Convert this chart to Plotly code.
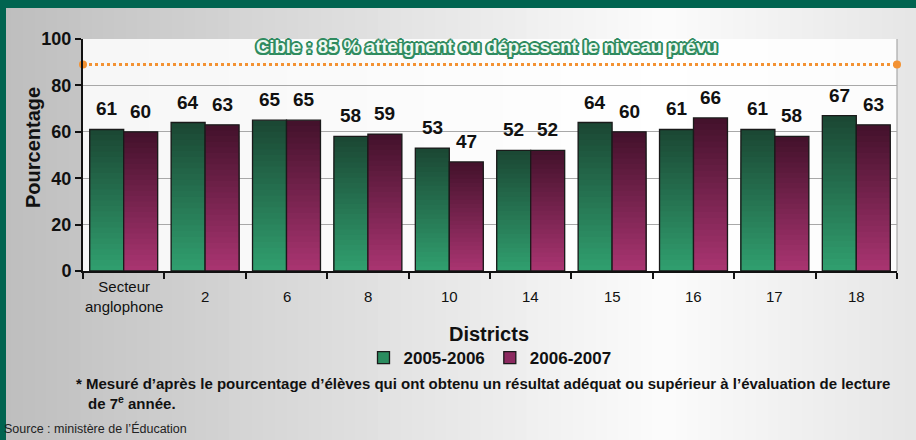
import plotly.graph_objects as go

# ---------------- data ----------------
categories = ["Secteur anglophone", "2", "6", "8", "10", "14", "15", "16", "17", "18"]
tick_labels = ["Secteur<br>anglophone", "2", "6", "8", "10", "14", "15", "16", "17", "18"]
series_names = ["2005-2006", "2006-2007"]
values_2005_2006 = [61, 64, 65, 58, 53, 52, 64, 61, 61, 67]
values_2006_2007 = [60, 63, 65, 59, 47, 52, 60, 66, 58, 63]
target_line_value = 89
target_text = "Cible : 85 % atteignent ou dépassent le niveau prévu"
y_ticks = [0, 20, 40, 60, 80, 100]

W, H = 916, 440
ML, MR, MT, MB = 83, 19, 39, 169
PW, PH = W - ML - MR, H - MT - MB


def px(x):
    return (x - ML) / PW


def py(y):
    return (H - MB - y) / PH


def lerp(c1, c2, t):
    return "rgb(%d,%d,%d)" % tuple(round(a + (b - a) * t) for a, b in zip(c1, c2))


fig = go.Figure()

series = [values_2005_2006, values_2006_2007]
dark = [(27, 72, 52), (68, 18, 44)]
light = [(48, 158, 110), (168, 52, 112)]
mid = ["#2a8c5f", "#8c2a60"]
N = 26
for s, vals in enumerate(series):
    for k in range(N):
        f = 1 - k / N
        fig.add_trace(go.Bar(
            x=categories, y=[v * f for v in vals],
            offsetgroup=series_names[s],
            marker=dict(color=lerp(dark[s], light[s], k / (N - 1)), line=dict(width=0)),
            showlegend=False, hoverinfo="skip"))
    fig.add_trace(go.Bar(
        x=categories, y=vals, offsetgroup=series_names[s],
        marker=dict(color="rgba(0,0,0,0)", line=dict(color="#1a1a1a", width=1.3)),
        showlegend=False, name=series_names[s]))

# legend entries
for s in range(2):
    fig.add_trace(go.Bar(
        x=[categories[0]], y=[None], name=series_names[s], offsetgroup=series_names[s],
        marker=dict(color=mid[s], line=dict(color="#1a1a1a", width=1.3)),
        showlegend=True))

# target line
fig.add_trace(go.Scatter(
    x=[0, 1], y=[target_line_value, target_line_value], xaxis="x2", mode="lines+markers",
    line=dict(color="#f39233", width=3, dash="dot"),
    marker=dict(color="#f39233", size=8), cliponaxis=False, showlegend=False,
    hoverinfo="skip"))

shapes = []
# background gradient
NS = 80
for i in range(NS):
    x0 = W * i / NS
    x1 = W * (i + 1) / NS + 1
    t = (i + 0.5) / NS
    if t < 0.72:
        g = 190 + (252 - 190) * (t / 0.72)
    else:
        g = 252 - (252 - 230) * ((t - 0.72) / 0.28)
    shapes.append(dict(type="rect", xref="paper", yref="paper",
                       x0=px(x0), x1=px(x1), y0=py(H), y1=py(0),
                       fillcolor="rgb(%d,%d,%d)" % (g, g, g), line_width=0, layer="below"))
# plot area
shapes.append(dict(type="rect", xref="paper", yref="paper", x0=0, x1=1, y0=0, y1=1,
                   fillcolor="rgba(255,255,255,0.85)", line_width=0, layer="below"))
# right border of plot area
shapes.append(dict(type="line", xref="paper", yref="paper", x0=1, x1=1, y0=0, y1=1,
                   line=dict(color="#a8a8a8", width=1.2), layer="below"))
# frame
shapes.append(dict(type="rect", xref="paper", yref="paper", x0=px(0), x1=px(W), y0=py(8), y1=py(0),
                   fillcolor="#006450", line_width=0, layer="above"))
shapes.append(dict(type="rect", xref="paper", yref="paper", x0=px(0), x1=px(6), y0=py(H), y1=py(0),
                   fillcolor="#006450", line_width=0, layer="above"))

annotations = []
# value labels
for s, vals in enumerate(series):
    for i, v in enumerate(vals):
        annotations.append(dict(
            x=i, y=v, xref="x", yref="y", text=str(v), showarrow=False,
            xshift=-17 if s == 0 else 17, xanchor="center", yanchor="bottom", yshift=8,
            font=dict(family="Liberation Sans", size=19, color="#111", weight="bold")))
# category labels
for i, lab in enumerate(tick_labels):
    annotations.append(dict(
        x=i, y=py(296), xref="x", yref="paper", text=lab, showarrow=False,
        xanchor="center", yanchor="middle",
        font=dict(family="Liberation Sans", size=15, color="#111")))
# target text
annotations.append(dict(
    x=px(487), y=py(47), xref="paper", yref="paper", text=target_text, showarrow=False,
    xanchor="center", yanchor="middle",
    font=dict(family="Liberation Sans", size=18.5, color="#eef8f1", weight="bold",
              shadow="2px 0 0 #2f8b5f, -2px 0 0 #2f8b5f, 0 2px 0 #2f8b5f, 0 -2px 0 #2f8b5f, "
                     "1.5px 1.5px 0 #2f8b5f, -1.5px -1.5px 0 #2f8b5f, 1.5px -1.5px 0 #2f8b5f, "
                     "-1.5px 1.5px 0 #2f8b5f")))
# axis titles
annotations.append(dict(
    x=px(33), y=py(148), xref="paper", yref="paper", text="Pourcentage", textangle=-90,
    xanchor="center", yanchor="middle",
    showarrow=False, font=dict(family="Liberation Sans", size=20, color="#111", weight="bold")))
annotations.append(dict(
    x=px(489), y=py(334), xref="paper", yref="paper", text="Districts",
    xanchor="center", yanchor="middle",
    showarrow=False, font=dict(family="Liberation Sans", size=20, color="#111", weight="bold")))
# footnotes
annotations.append(dict(
    x=px(74), y=py(383), xref="paper", yref="paper", xanchor="left", yanchor="middle",
    text="* Mesuré d’après le pourcentage d’élèves qui ont obtenu un résultat adéquat ou supérieur à l’évaluation de lecture",
    showarrow=False, font=dict(family="Liberation Sans", size=15, color="#111", weight="bold")))
annotations.append(dict(
    x=px(86), y=py(402), xref="paper", yref="paper", xanchor="left", yanchor="middle",
    text="de 7<sup>e</sup> année.",
    showarrow=False, font=dict(family="Liberation Sans", size=15, color="#111", weight="bold")))
annotations.append(dict(
    x=px(2), y=py(428), xref="paper", yref="paper", xanchor="left", yanchor="middle",
    text="Source : ministère de l’Éducation",
    showarrow=False, font=dict(family="Liberation Sans", size=12.5, color="#222")))

fig.update_layout(
    width=W, height=H, margin=dict(l=ML, r=MR, t=MT, b=MB, pad=0),
    paper_bgcolor="white", plot_bgcolor="rgba(0,0,0,0)",
    barmode="group", bargap=0.165, bargroupgap=0,
    shapes=shapes, annotations=annotations,
    font=dict(family="Liberation Sans", color="#111"),
    legend=dict(orientation="h", x=0.5, xanchor="center", y=py(358), yanchor="middle",
                bgcolor="rgba(0,0,0,0)", itemwidth=30,
                font=dict(family="Liberation Sans", size=17, color="#111", weight="bold")),
    xaxis=dict(type="category", showticklabels=False, ticks="outside", tickson="boundaries",
               ticklen=6, tickwidth=2, tickcolor="#111", showline=True, linecolor="#111",
               linewidth=2, showgrid=False, fixedrange=True,
               range=[-0.5, len(categories) - 0.5]),
    xaxis2=dict(overlaying="x", range=[0, 1], visible=False),
    yaxis=dict(range=[0, 100], tickvals=y_ticks, ticks="outside", ticklen=6, tickwidth=2,
               tickcolor="#111", showline=True, linecolor="#111", linewidth=2,
               showgrid=True, gridcolor="#a8a8a8", gridwidth=1.2, zeroline=False,
               tickfont=dict(family="Liberation Sans", size=18, color="#111", weight="bold")),
)

fig.write_html("out.html", config={"displayModeBar": False},
               post_script="document.body.style.margin='0';")
